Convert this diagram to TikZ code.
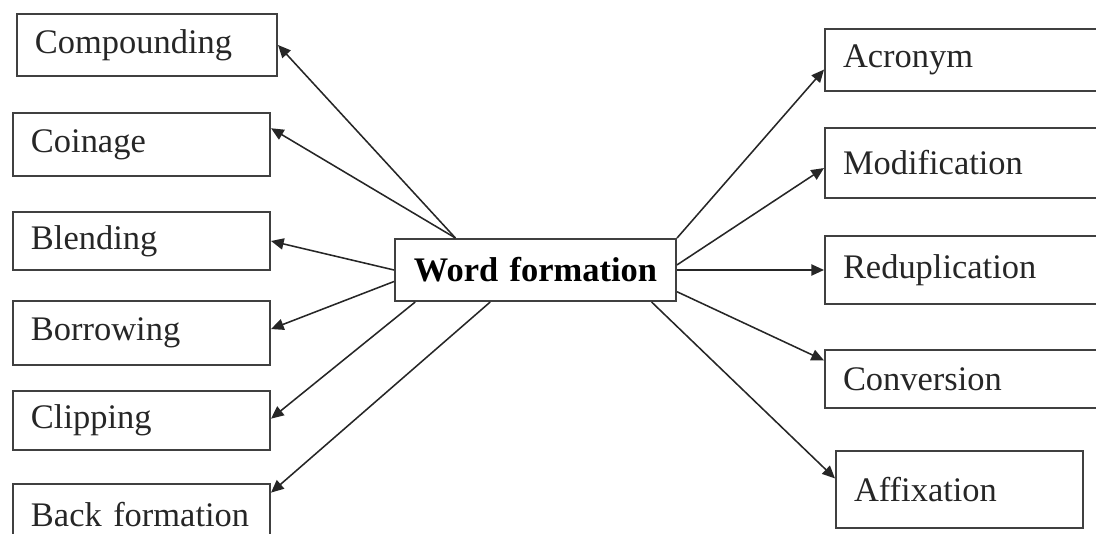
\documentclass[tikz,border=0pt]{standalone}
\usepackage{fontspec}
\setmainfont{Liberation Serif}
\usetikzlibrary{arrows.meta}
\usetikzlibrary{calc}
\tikzset{boxStyle/.style={rectangle, draw=black!75, line width=1.4pt, inner xsep=0.45cm, inner ysep=0pt, anchor=north west, align=left, text=black!85, font=\fontsize{24.5}{29}\selectfont}}
\tikzset{mainStyle/.style={boxStyle, align=center, inner xsep=0pt, text=black, font=\fontsize{24.5}{29}\selectfont\bfseries}}
\tikzset{post/.style={-{Triangle[length=9pt,width=8pt]}, line width=1.1pt, draw=black!85}}

\begin{document}
\begin{tikzpicture}[x=0.025cm, y=-0.025cm]
  \useasboundingbox (0,0) rectangle (1096,533);
  \clip (0,0) rectangle (1096,533);

  % nodes
  \node at (394,238) [mainStyle, text width=7.025cm, minimum height=1.55cm] (wordform) {Word formation};

  \node at (16,13) [boxStyle, text width=5.6cm, minimum height=1.55cm] (compounding) {Compounding};
  \node at (12,112) [boxStyle, text width=5.525cm, minimum height=1.575cm] (coinage) {Coinage};
  \node at (12,211) [boxStyle, text width=5.525cm, minimum height=1.45cm] (blending) {Blending};
  \node at (12,300) [boxStyle, text width=5.525cm, minimum height=1.6cm] (borrowing) {Borrowing};
  \node at (12,390) [boxStyle, text width=5.525cm, minimum height=1.475cm] (clipping) {Clipping};
  \node at (12,483) [boxStyle, text width=5.525cm, minimum height=1.55cm] (backform) {Back formation};

  \node at (824,28) [boxStyle, text width=6cm, minimum height=1.55cm] (acronym) {Acronym};
  \node at (824,127) [boxStyle, text width=6cm, minimum height=1.75cm] (modification) {Modification};
  \node at (824,235) [boxStyle, text width=6cm, minimum height=1.7cm] (reduplication) {Reduplication};
  \node at (824,349) [boxStyle, text width=6cm, minimum height=1.45cm] (conversion) {Conversion};
  \node at (835,450) [boxStyle, text width=5.275cm, minimum height=1.925cm] (affixation) {Affixation};

  % lines left
  \draw [post] ($(wordform.north west)!0.217!(wordform.north east)$) -- (compounding.east);
  \draw [post] ($(wordform.north west)!0.217!(wordform.north east)$) -- ($(coinage.north east)!0.25!(coinage.south east)$);
  \draw [post] (wordform.west) -- (blending.east);
  \draw [post] ($(wordform.north west)!0.68!(wordform.south west)$) -- ($(borrowing.north east)!0.44!(borrowing.south east)$);
  \draw [post] ($(wordform.south west)!0.075!(wordform.south east)$) -- ($(clipping.north east)!0.47!(clipping.south east)$);
  \draw [post] ($(wordform.south west)!0.34!(wordform.south east)$) -- ($(backform.north east)!0.15!(backform.south east)$);

  % lines right
  \draw [post] (wordform.north east) -- ($(acronym.north west)!0.65!(acronym.south west)$);
  \draw [post] ($(wordform.north east)!0.42!(wordform.south east)$) -- ($(modification.north west)!0.57!(modification.south west)$);
  \draw [post] (wordform.east) -- (wordform.east -| reduplication.west);
  \draw [post] ($(wordform.north east)!0.84!(wordform.south east)$) -- ($(conversion.north west)!0.19!(conversion.south west)$);
  \draw [post] ($(wordform.south west)!0.91!(wordform.south east)$) -- ($(affixation.north west)!0.36!(affixation.south west)$);
\end{tikzpicture}
\end{document}
